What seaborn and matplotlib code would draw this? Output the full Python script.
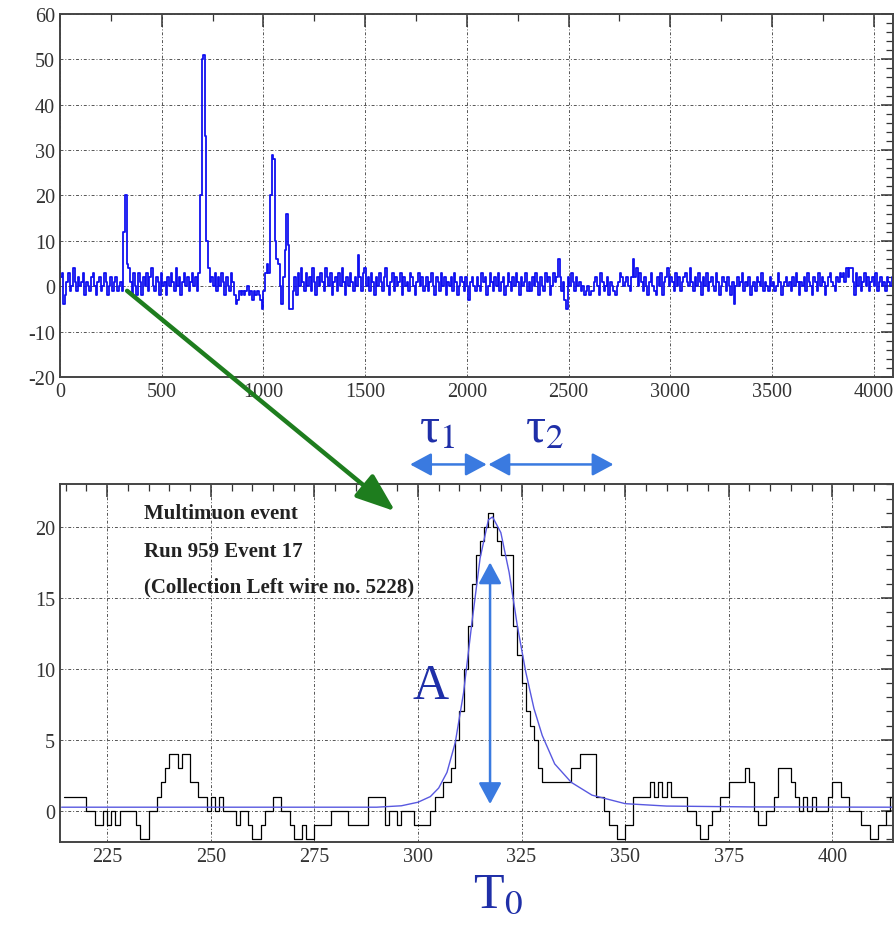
import numpy as np
import seaborn as sns
import matplotlib.pyplot as plt
from matplotlib.patches import ConnectionPatch, ArrowStyle
from matplotlib.ticker import MultipleLocator

# ---- full waveform (one value per 8 samples) ----
raw_step = 8
raw_adc = [
    2, 3, -4, -2, 1, 3, -1, 0, 4, 1, -1, 2, 0, 1, 3, -2, 1, 0, -1, 2, 3, 0, -2, 1, 2, -1, 0, 3, 1, -2, 0, 2,
    -1, 1, 2, -1, 0, 1, -1, 12, 20, 5, 4, 1, -2, 3, 0, -2, 3, 1, -2, 2, 0, 3, -1, 2, 4, 0, -1, 2, 1, -2, 3, 0,
    1, -2, 2, 0, 3, 1, -1, 4, 0, 2, -2, 1, 3, 0, 2, -1, 1, 3, 0, 2, -1, 3, 20, 50, 51, 33, 10, 4, 1, 2, 0, 3,
    -1, 2, 0, 3, 1, -2, 2, 0, -1, 3, 1, -2, -4, -3, -1, -2, -1, -2, -1, 0, -2, -1, -3, -1, -2, -1, -2, -3, -5, -1, 3, 5,
    3, 20, 29, 28, 10, 6, 5, 0, -4, 2, 8, 16, 9, -5, -5, -1, 2, -2, 3, 0, 4, 1, -1, 3, 0, 2, -1, 4, 1, -2, 2, 0,
    3, 1, -1, 4, 2, 0, 3, -2, 1, 2, -1, 3, 0, 4, 1, -2, 2, 0, 3, 1, -1, 2, 0, 7, 2, -1, 3, 4, 0, 2, -1, 3,
    1, -2, 2, 0, 3, 1, -1, 2, 4, 0, -2, 1, 3, -1, 2, 0, 1, 3, -2, 2, 0, 1, -1, 3, 2, 0, -2, 1, 3, 0, 2, -1,
    0, 2, -1, 1, 3, 0, -2, 2, 1, -1, 3, 0, 2, -2, 1, 0, 2, -1, 3, 1, -2, 0, 2, 1, -1, 2, 0, -3, 1, 2, 0, -1,
    2, 0, -1, 3, 1, 2, -2, 0, 3, 1, -1, 2, 0, 3, -1, 1, 2, -2, 0, 3, 1, -1, 2, 0, 3, 1, -2, 2, 0, 1, 3, -1,
    1, -1, 2, 0, 3, 1, -2, 2, 0, -1, 3, 1, 2, -2, 0, 3, 1, 2, 6, 2, -1, 1, -3, -5, 2, 0, 3, 1, -1, 2, 0, 1,
    -1, 0, -2, -1, 0, -2, -1, -1, 1, 2, 0, -2, 3, 1, -1, 0, 2, -2, 1, 0, -1, -2, 0, 1, 3, 2, 0, 1, 2, 0, -1, 2,
    6, 2, 4, 0, 3, 1, -1, 2, 0, -2, 1, 3, 0, -1, -2, 2, 0, 3, -2, 1, 2, 4, 0, 2, 1, -1, 3, 0, 2, -1, 1, 2,
    3, 1, 0, 4, 1, -1, 2, 0, 3, 1, -2, 2, 0, 3, -1, 1, 2, 0, -1, 3, 1, -2, 0, 2, 1, -1, 2, 0, -2, 1, -4, 0,
    2, 0, 1, 3, -1, 1, 0, 2, -2, 0, 1, -1, 2, 1, 0, 3, -1, 1, 0, -1, 2, 0, 1, -1, 0, 3, 1, -2, 0, 1, 2, 0,
    1, -1, 2, 0, 3, 1, -2, 1, 0, 2, -1, 3, 1, 0, -2, 2, 1, -1, 3, 0, 2, 1, -2, 0, 2, 3, 1, 0, -1, 2, 1, 3,
    2, 3, 1, 4, 2, 4, 4, 1, -2, 3, 0, 2, -1, 1, 3, 0, 2, -1, 1, 2, 0, 3, -1, 1, 2, 0, 1, -1, 2, 1, 0, 2,
]

# ---- zoomed hit: one value per sample, samples 214..414 ----
hit_start = 214
hit_adc = [
    1, 1, 1, 1, 1, 1, 0, 0, -1, -1,
    0, -1, 0, -1, 0, 0, 0, 0, -1, -2,
    -2, 0, 0, 1, 2, 3, 4, 4, 3, 4,
    4, 2, 2, 1, 1, 0, 1, 0, 1, 0,
    0, 0, -1, 0, 0, -1, -2, -2, -1, 0,
    0, 1, 1, 0, 0, -1, -2, -2, -1, -2,
    -2, -1, -1, -1, -1, 0, 0, 0, 0, -1,
    -1, -1, -1, -1, 1, 1, 1, 1, -1, 0,
    0, -1, 0, 0, 0, -1, -1, -1, -1, 0,
    1, 1, 2, 2, 3, 5, 7, 10, 13, 16,
    18, 19, 20, 21, 20, 19, 18, 18, 18, 13,
    11, 9, 7, 6, 5, 3, 2, 2, 2, 2,
    2, 2, 2, 3, 3, 4, 4, 4, 4, 1,
    1, 0, -1, -1, -2, -2, -1, -1, 1, 1,
    1, 1, 2, 1, 2, 1, 2, 1, 1, 1,
    1, 0, 0, -1, -2, -2, -1, 0, 0, 1,
    1, 2, 2, 2, 2, 3, 2, 0, -1, -1,
    0, 0, 1, 3, 3, 3, 2, 1, 0, 1,
    0, 1, 0, 0, 0, 1, 2, 2, 1, 1,
    0, 0, 0, -1, -1, -2, -2, -1, -1, 0,
    1,
]

# fitted pulse shape
fit_x = [214, 290, 296, 300, 303, 305, 307, 309, 311, 313, 315, 317, 318,
         320, 322, 324, 326, 328, 330, 333, 337, 342, 350, 360, 380, 415]
fit_y = [0.25, 0.25, 0.35, 0.6, 1.0, 1.6, 2.7, 4.8, 8.3, 13.2, 17.8, 20.5, 20.7,
         19.6, 16.8, 13.0, 9.8, 7.2, 5.3, 3.3, 2.0, 1.1, 0.5, 0.33, 0.27, 0.25]

info_lines = ["Multimuon event", "Run 959 Event 17", "(Collection Left wire no. 5228)"]

sns.set_style("white")
plt.rcParams['font.family'] = ['Liberation Serif', 'DejaVu Serif']
plt.rcParams['mathtext.fontset'] = 'stix'
plt.rcParams['axes.unicode_minus'] = False

fig = plt.figure(figsize=(8.95, 9.29), dpi=100)
ax_top = fig.add_axes([0.067, 0.593, 0.931, 0.391])
ax_bot = fig.add_axes([0.067, 0.0926, 0.931, 0.385])

raw_x = np.arange(len(raw_adc)) * raw_step + raw_step / 2
sns.lineplot(x=raw_x, y=raw_adc, ax=ax_top, color="#1010f0", linewidth=1.3,
             drawstyle="steps-mid", estimator=None)

hit_x = np.arange(len(hit_adc)) + hit_start + 0.5
sns.lineplot(x=hit_x, y=hit_adc, ax=ax_bot, color="black", linewidth=0.9,
             drawstyle="steps-mid", estimator=None)
sns.lineplot(x=fit_x, y=fit_y, ax=ax_bot, color="#5858e0", linewidth=1.0,
             estimator=None)

grid_kw = dict(color="#555555", linestyle=(0, (3, 2, 1, 2)), linewidth=0.7)

ax_top.set_xlim(0, 4096)
ax_top.set_ylim(-20, 60)
ax_top.xaxis.set_major_locator(MultipleLocator(500))
ax_top.xaxis.set_minor_locator(MultipleLocator(250))
ax_top.yaxis.set_major_locator(MultipleLocator(10))
ax_top.yaxis.set_minor_locator(MultipleLocator(2))

ax_bot.set_xlim(213.6, 414.7)
ax_bot.set_ylim(-2.2, 23)
ax_bot.xaxis.set_major_locator(MultipleLocator(25))
ax_bot.xaxis.set_minor_locator(MultipleLocator(5))
ax_bot.yaxis.set_major_locator(MultipleLocator(5))
ax_bot.yaxis.set_minor_locator(MultipleLocator(1))

for ax in (ax_top, ax_bot):
    ax.grid(True, which="major", **grid_kw)
    ax.tick_params(which="both", direction="in", top=True, right=True,
                   colors="#333333", labelsize=14.5)
    ax.tick_params(which="major", length=9, width=1.1)
    ax.tick_params(which="minor", length=5, width=0.9)
    for s in ax.spines.values():
        s.set_color("#444444")
        s.set_linewidth(1.4)
    ax.set_xlabel("")
    ax.set_ylabel("")

# text box in the zoomed panel
for txt, yv in zip(info_lines, [21.0, 18.3, 15.8]):
    ax_bot.text(233.9, yv, txt, fontsize=15, fontweight="bold",
                ha="left", va="center", color="#222222")

# green arrow from the first hit to the zoom
green = ConnectionPatch(xyA=(330, -1), coordsA=ax_top.transData,
                        xyB=(294.5, 21.1), coordsB=ax_bot.transData,
                        arrowstyle=ArrowStyle("-|>", head_length=1.2, head_width=0.45),
                        mutation_scale=20, linewidth=3.2, color="#1e7d1e")
fig.add_artist(green)

# blue annotations
blue = "#3a7ae0"
dark_blue = "#1f2fa8"
arr = ArrowStyle("<|-|>", head_length=1.3, head_width=0.7)
akw = dict(arrowstyle=arr, mutation_scale=10, lw=1.8, color=blue, shrinkA=0, shrinkB=0)
ax_bot.annotate("", xy=(316.6, 24.4), xytext=(298.1, 24.4), arrowprops=akw,
                annotation_clip=False)
ax_bot.annotate("", xy=(347.2, 24.4), xytext=(317.0, 24.4), arrowprops=akw,
                annotation_clip=False)
ax_bot.annotate("", xy=(317.4, 17.5), xytext=(317.4, 0.47), arrowprops=akw,
                annotation_clip=False)

ax_bot.text(304.7, 26.9, "τ$_1$", fontsize=36, color=dark_blue,
            ha="center", va="center", clip_on=False)
ax_bot.text(330.7, 26.9, "τ$_2$", fontsize=36, color=dark_blue,
            ha="center", va="center", clip_on=False)
ax_bot.text(303.0, 8.8, "A", fontsize=36, color=dark_blue,
            ha="center", va="center")
ax_bot.text(319.4, -5.9, "T$_0$", fontsize=36, color=dark_blue,
            ha="center", va="center", clip_on=False)

fig.savefig("out.png", dpi=100)
